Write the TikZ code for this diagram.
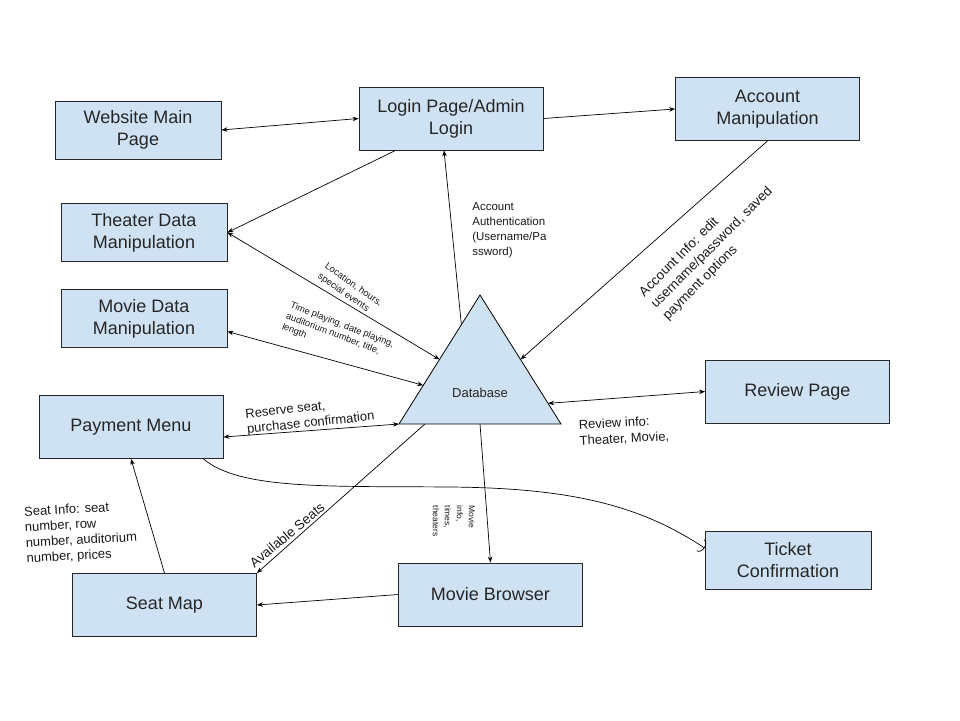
\documentclass[tikz,border=0pt]{standalone}
\usepackage{fontspec}
\setmainfont{Liberation Sans}
\usepackage{xcolor}
\usetikzlibrary{arrows.meta,calc}
\definecolor{boxblue}{HTML}{CFE2F3}

\begin{document}
\begin{tikzpicture}[x=1pt,y=-1pt,
  >={Stealth[length=6pt,width=4.5pt]},
  line width=0.7pt,
  bigbox/.style={draw=black!85,fill=boxblue,line width=0.8pt,minimum width=184pt,minimum height=63pt,inner sep=0pt,align=center,text=black!85,font=\fontsize{18}{22}\selectfont},
  smallbox/.style={bigbox,minimum width=166pt,minimum height=58pt},
  note/.style={inner sep=0pt,align=left,text=black!90}]

\useasboundingbox (0,0) rectangle (960,720);

\node[smallbox] (web) at (138,130) {Website Main\\Page};
\node[bigbox] (login) at (451,118.5) {Login Page/Admin\\Login};
\node[bigbox] (account) at (767.5,109) {Account\\Manipulation};
\node[smallbox] (theater) at (144,232.5) {Theater Data\\Manipulation};
\node[smallbox] (moviedata) at (144,318.5) {Movie Data\\Manipulation};
\node[bigbox] (payment) at (131,427) {Payment Menu};
\node[bigbox] (review) at (797.5,391.5) {Review Page};
\node[smallbox] (ticket) at (788,560) {Ticket\\Confirmation};
\node[bigbox] (seat) at (164.5,605) {Seat Map};
\node[bigbox] (browser) at (490.5,594.5) {Movie Browser};

\coordinate (dbtop) at (480,295);
\coordinate (dbleft) at (399,424);
\coordinate (dbright) at (561,424);
\draw[fill=boxblue,line width=0.8pt] (dbleft) -- (dbtop) -- (dbright) -- cycle;
\node[font=\fontsize{13}{15}\selectfont,text=black!85] (db) at (480,392.5) {Database};

\draw[<->] (web.east) -- (login.west);
\draw[->] (login.east) -- (account.west);
\draw[->] ($(login.south west)!0.2!(login.south east)$) -- (theater.east);
\draw[<->] (theater.east) -- ($(dbleft)!0.5!(dbtop)$);
\draw[<->] ([yshift=-13pt]moviedata.east) -- ($(dbleft)!0.3!(dbtop)$);
\draw[->] ($(dbleft)!0.77!(dbtop)$) -- ([xshift=-7pt]login.south);
\draw[->] (account.south) -- ($(dbright)!0.5!(dbtop)$);
\draw[<->] (review.west) -- ($(dbright)!0.16!(dbtop)$);
\draw[<->] ([yshift=-10pt]payment.east) -- (dbleft);
\draw[->] ($(dbleft)!0.16!(dbright)$) -- (seat.north east);
\draw[->] ($(dbleft)!0.5!(dbright)$) -- (browser.north);
\draw[->] (browser.west) -- (seat.east);
\draw[->] (seat.north) -- (payment.south);
\draw[-{Arc Barb[length=5pt,width=14pt]}] ([xshift=-20pt]payment.south east)
  .. controls (240,490) and (330,486) .. (450,487)
  .. controls (570,488) and (640,505) .. ([yshift=12pt]ticket.west);

\node[note,font=\fontsize{11.5}{15}\selectfont,anchor=north west] (authlbl) at (472,202) {Account\\Authentication\\(Username/Pa\\ssword)};
\node[note,font=\fontsize{9.5}{12}\selectfont,rotate=-35] (loclbl) at (350,290) {Location, hours,\\special events};
\node[note,font=\fontsize{9.3}{11.5}\selectfont,rotate=-21] (timelbl) at (338,336) {Time playing, date playing,\\auditorium number, title,\\length};
\node[note,font=\fontsize{13}{15.5}\selectfont,rotate=6] (reslbl) at (310,416) {Reserve seat,\\purchase confirmation};
\node[note,font=\fontsize{13.5}{16.5}\selectfont,rotate=45] (acclbl) at (712,248) {Account Info: edit\\username/password, saved\\payment options};
\node[note,font=\fontsize{13}{16}\selectfont,rotate=3] (revlbl) at (624,431) {Review info:\\Theater, Movie,};
\node[note,font=\fontsize{13}{15.5}\selectfont,rotate=3] (seatlbl) at (81,533) {Seat Info: seat\\number, row\\number, auditorium\\number, prices};
\node[note,font=\fontsize{13.5}{16}\selectfont,rotate=40] (availlbl) at (287,535) {Available Seats};
\node[note,font=\fontsize{8.5}{12}\selectfont,rotate=-90] (movielbl) at (454,521) {Movie\\info,\\times,\\theaters};

\end{tikzpicture}
\end{document}
